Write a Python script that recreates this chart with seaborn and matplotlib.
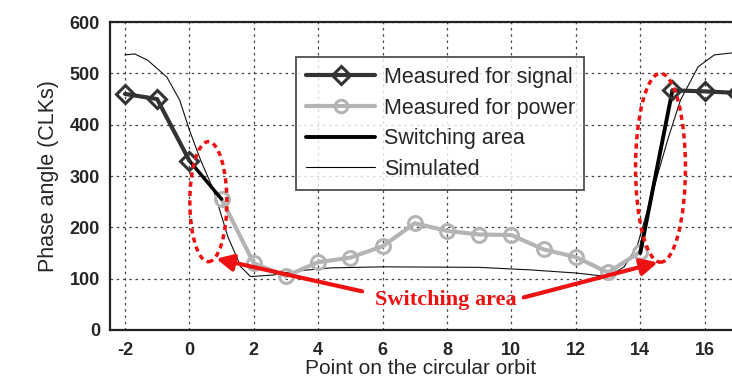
import numpy as np
import pandas as pd
import matplotlib
matplotlib.use("Agg")
import matplotlib.pyplot as plt
import seaborn as sns
from matplotlib.patches import Ellipse
from matplotlib.lines import Line2D

# ---- data ----
signal_left_x = [-2, -1, 0]
signal_left_y = [460, 450, 330]
signal_right_x = [15, 16, 17]
signal_right_y = [467, 465, 462]

power_x = [1, 2, 3, 4, 5, 6, 7, 8, 9, 10, 11, 12, 13, 14]
power_y = [255, 130, 105, 132, 141, 163, 208, 193, 186, 185, 157, 142, 112, 152]

switch_left_x = [0, 1]
switch_left_y = [330, 255]
switch_right_x = [14, 15]
switch_right_y = [150, 467]

sim_x = [-2, -1.7, -1.3, -0.7, -0.3, 0.0, 0.35, 0.75, 1.2, 1.6, 1.9, 2.6, 3.0, 3.7, 4.4,
         6, 9, 10.6, 12.0, 13.0, 13.5, 13.9, 14.2, 14.85, 15.25, 15.8, 16.3, 16.85]
sim_y = [536, 538, 526, 493, 448, 390, 331, 273, 181, 123, 104, 107, 112, 117, 121,
         123, 122, 117, 111, 104, 123, 162, 228, 370, 448, 513, 536, 540]

xticks = [-2, 0, 2, 4, 6, 8, 10, 12, 14, 16]
yticks = [0, 100, 200, 300, 400, 500, 600]

sns.set_style("white")
plt.rcParams['font.family'] = ['Liberation Sans', 'DejaVu Sans']
plt.rcParams['axes.unicode_minus'] = False

fig = plt.figure(figsize=(7.32, 3.81), dpi=100)
ax = fig.add_axes([0.150, 0.134, 0.850, 0.808])

sig_c = "#333333"
pow_c = "#b4b4b4"

sns.lineplot(x=sim_x, y=sim_y, ax=ax, color="#111111", lw=0.8, sort=False, zorder=2)
sns.lineplot(x=power_x, y=power_y, ax=ax, color=pow_c, lw=3, marker="o", ms=10,
             mfc="none", mec=pow_c, mew=2.2, sort=False, zorder=3)
sns.lineplot(x=switch_left_x, y=switch_left_y, ax=ax, color="black", lw=2.5, sort=False, zorder=4)
sns.lineplot(x=switch_right_x, y=switch_right_y, ax=ax, color="black", lw=2.8, sort=False, zorder=4)
for xs, ys in [(signal_left_x, signal_left_y), (signal_right_x, signal_right_y)]:
    sns.lineplot(x=xs, y=ys, ax=ax, color=sig_c, lw=3, marker="D", ms=9,
                 mfc="none", mec=sig_c, mew=2.2, sort=False, zorder=5)

ax.set_xlim(-2.47, 16.85)
ax.set_ylim(0, 600)
ax.set_xticks(xticks)
ax.set_yticks(yticks)
ax.tick_params(labelsize=13, length=0)
ax.tick_params(axis="x", pad=9)
ax.tick_params(axis="y", pad=7)
for t in ax.get_xticklabels() + ax.get_yticklabels():
    t.set_fontweight("bold")
ax.grid(True, linestyle=(0, (2, 3)), color="#444444", lw=0.9)
for s in ["left", "bottom", "top"]:
    ax.spines[s].set_color("#222222")
    ax.spines[s].set_linewidth(1.6)
ax.spines["right"].set_visible(False)

ax.set_xlabel("Point on the circular orbit", fontsize=15, labelpad=0)
ax.set_ylabel("Phase angle (CLKs)", fontsize=15.5, labelpad=8)

# Ellipses
ax.add_patch(Ellipse((0.59, 250), 1.15, 234, fill=False, ec="#ee1111", ls=(0, (1.5, 1.2)), lw=2.5, zorder=6))
ax.add_patch(Ellipse((14.63, 316), 1.55, 368, fill=False, ec="#ee1111", ls=(0, (1.5, 1.2)), lw=2.5, zorder=6))

# Annotations
ax.text(7.95, 58, "Switching area", color="#ee1111", fontsize=16, fontweight="bold",
        family=["Liberation Serif"], ha="center", va="center", zorder=7)
ax.annotate("", xy=(0.75, 140), xytext=(5.45, 74),
            arrowprops=dict(arrowstyle="-|>,head_length=1.0,head_width=0.5", color="#ee1111", lw=3),
            zorder=7)
ax.annotate("", xy=(14.63, 133), xytext=(10.3, 62),
            arrowprops=dict(arrowstyle="-|>,head_length=1.0,head_width=0.5", color="#ee1111", lw=3),
            zorder=7)

handles = [
    Line2D([], [], color=sig_c, lw=3, marker="D", ms=9, mfc="none", mec=sig_c, mew=2.2),
    Line2D([], [], color=pow_c, lw=3, marker="o", ms=9, mfc="none", mec=pow_c, mew=2.2),
    Line2D([], [], color="black", lw=2.8),
    Line2D([], [], color="black", lw=0.8),
]
labels = ["Measured for signal", "Measured for power", "Switching area", "Simulated"]
leg = ax.legend(handles, labels, loc="upper left", bbox_to_anchor=(0.30, 0.886),
                borderaxespad=0, fontsize=15.5, frameon=True, fancybox=False, handlelength=3.2,
                borderpad=0.45, labelspacing=0.45, handletextpad=0.4)
leg.get_frame().set_edgecolor("#222222")
leg.get_frame().set_linewidth(1.3)
leg.set_zorder(8)

fig.savefig("out.png", dpi=100)
